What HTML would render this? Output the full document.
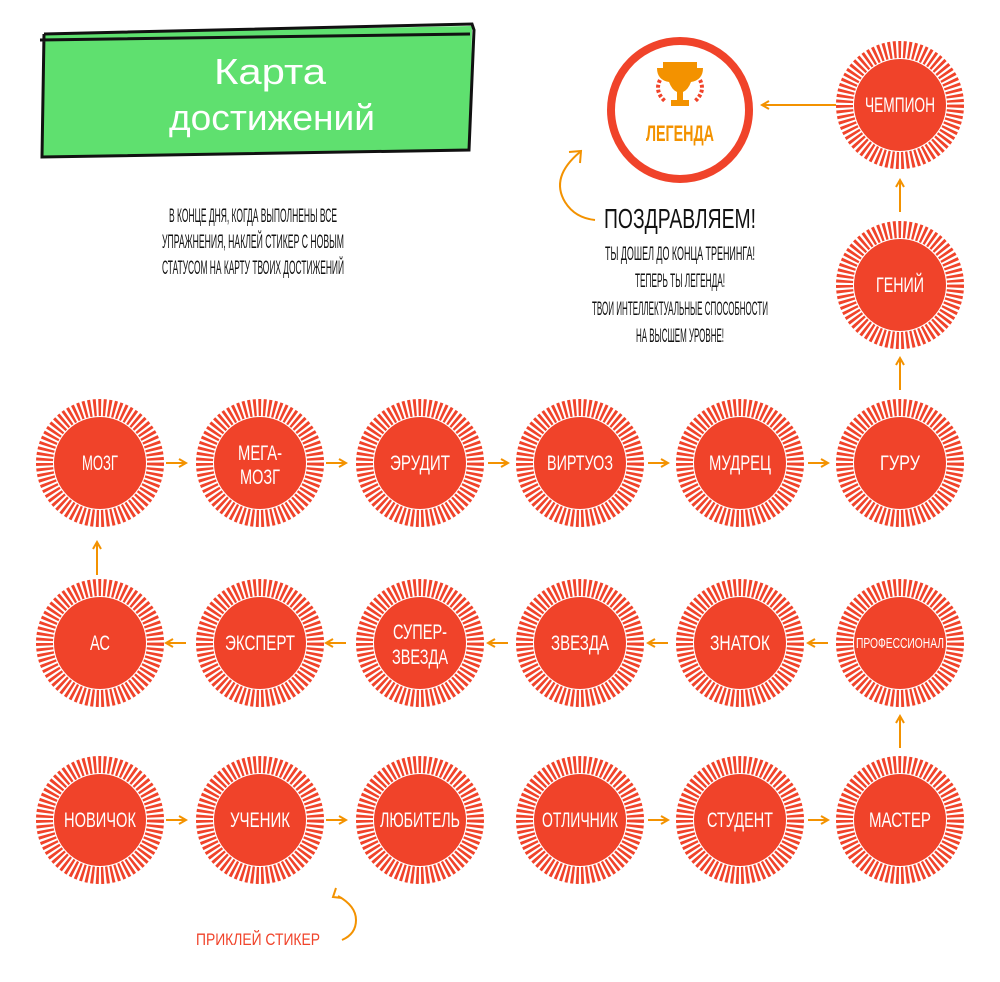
<!DOCTYPE html>
<html><head><meta charset="utf-8"><style>
html,body{margin:0;padding:0;background:#fff;}
svg{display:block}
.l{font-family:"Liberation Sans Narrow","Liberation Sans",sans-serif;fill:#fff;font-size:21px;text-anchor:middle}
.b{font-family:"Liberation Sans Narrow","Liberation Sans",sans-serif;fill:#111;font-size:19px;text-anchor:middle}
</style></head><body>
<svg width="1000" height="982" viewBox="0 0 1000 982" xmlns="http://www.w3.org/2000/svg">
<defs>
<g id="c">
<circle r="46" fill="#f0432a"/>
<circle r="55.5" fill="none" stroke="#f0432a" stroke-width="17" stroke-dasharray="2.7 2.2"/>
</g>
<marker id="ah" markerWidth="10" markerHeight="10" refX="8" refY="5" orient="auto" markerUnits="userSpaceOnUse">
<path d="M1,1 L8,5 L1,9" fill="none" stroke="#f39200" stroke-width="2"/>
</marker>
</defs>
<!-- header -->
<polygon points="44,34 472,26 470,150 42,157" fill="#5fe06f"/>
<path d="M44,34 L472,24 L474,30 L469,150 L42,157 L44,34 M40,40 L470,34" fill="none" stroke="#111" stroke-width="3"/>
<text x="270" y="84" font-family="Liberation Sans" font-size="36" fill="#fff" text-anchor="middle" textLength="112" lengthAdjust="spacingAndGlyphs">Карта</text>
<text x="272" y="130" font-family="Liberation Sans" font-size="36" fill="#fff" text-anchor="middle" textLength="206" lengthAdjust="spacingAndGlyphs">достижений</text>
<text class="b" x="253" y="222" textLength="168" lengthAdjust="spacingAndGlyphs">В КОНЦЕ ДНЯ, КОГДА ВЫПОЛНЕНЫ ВСЕ</text>
<text class="b" x="253" y="248" textLength="182" lengthAdjust="spacingAndGlyphs">УПРАЖНЕНИЯ, НАКЛЕЙ СТИКЕР С НОВЫМ</text>
<text class="b" x="253" y="274" textLength="182" lengthAdjust="spacingAndGlyphs">СТАТУСОМ НА КАРТУ ТВОИХ ДОСТИЖЕНИЙ</text>
<!-- legend -->
<circle cx="680" cy="110" r="69" fill="#fff" stroke="#f0432a" stroke-width="8"/>
<path d="M663,62 h34 v6 h6 q0,12 -12,14 q-3,8 -8,10 v8 h6 v6 h-18 v-6 h6 v-8 q-5,-2 -8,-10 q-12,-2 -12,-14 h6z" fill="#f39200"/>
<path d="M660,80 q-6,12 6,22 M700,80 q6,12 -6,22" fill="none" stroke="#f0432a" stroke-width="4" stroke-dasharray="3 2"/>
<text x="680" y="141" font-family="Liberation Sans Narrow,Liberation Sans,sans-serif" font-size="22" font-weight="bold" fill="#f39200" text-anchor="middle" textLength="68" lengthAdjust="spacingAndGlyphs">ЛЕГЕНДА</text>
<path d="M580,152 q-30,25 -15,50 q10,16 30,18" fill="none" stroke="#f39200" stroke-width="2"/>
<path d="M569,152 L581,151 L580,163" fill="none" stroke="#f39200" stroke-width="2"/>
<text x="680" y="228" font-family="Liberation Sans Narrow,Liberation Sans,sans-serif" font-size="28" fill="#111" text-anchor="middle" textLength="152" lengthAdjust="spacingAndGlyphs">ПОЗДРАВЛЯЕМ!</text>
<text class="b" x="680" y="260" textLength="150" lengthAdjust="spacingAndGlyphs">ТЫ ДОШЕЛ ДО КОНЦА ТРЕНИНГА!</text>
<text class="b" x="680" y="287" textLength="90" lengthAdjust="spacingAndGlyphs">ТЕПЕРЬ ТЫ ЛЕГЕНДА!</text>
<text class="b" x="680" y="315" textLength="176" lengthAdjust="spacingAndGlyphs">ТВОИ ИНТЕЛЛЕКТУАЛЬНЫЕ СПОСОБНОСТИ</text>
<text class="b" x="680" y="342" textLength="88" lengthAdjust="spacingAndGlyphs">НА ВЫСШЕМ УРОВНЕ!</text>
<!-- circles -->
<g>
<use href="#c" x="900" y="105"/><use href="#c" x="900" y="285"/>
<use href="#c" x="100" y="463"/><use href="#c" x="260" y="463"/><use href="#c" x="420" y="463"/><use href="#c" x="580" y="463"/><use href="#c" x="740" y="463"/><use href="#c" x="900" y="463"/>
<use href="#c" x="100" y="643"/><use href="#c" x="260" y="643"/><use href="#c" x="420" y="643"/><use href="#c" x="580" y="643"/><use href="#c" x="740" y="643"/><use href="#c" x="900" y="643"/>
<use href="#c" x="100" y="820"/><use href="#c" x="260" y="820"/><use href="#c" x="420" y="820"/><use href="#c" x="580" y="820"/><use href="#c" x="740" y="820"/><use href="#c" x="900" y="820"/>
</g>
<g class="l">
<text x="900" y="112" textLength="70" lengthAdjust="spacingAndGlyphs">ЧЕМПИОН</text>
<text x="900" y="292" textLength="48" lengthAdjust="spacingAndGlyphs">ГЕНИЙ</text>
<text x="100" y="470" textLength="36" lengthAdjust="spacingAndGlyphs">МОЗГ</text>
<text x="260" y="460" textLength="44" lengthAdjust="spacingAndGlyphs">МЕГА-</text>
<text x="260" y="484" textLength="40" lengthAdjust="spacingAndGlyphs">МОЗГ</text>
<text x="420" y="470" textLength="60" lengthAdjust="spacingAndGlyphs">ЭРУДИТ</text>
<text x="580" y="470" textLength="66" lengthAdjust="spacingAndGlyphs">ВИРТУОЗ</text>
<text x="740" y="470" textLength="62" lengthAdjust="spacingAndGlyphs">МУДРЕЦ</text>
<text x="900" y="470" textLength="40" lengthAdjust="spacingAndGlyphs">ГУРУ</text>
<text x="100" y="650" textLength="20" lengthAdjust="spacingAndGlyphs">АС</text>
<text x="260" y="650" textLength="70" lengthAdjust="spacingAndGlyphs">ЭКСПЕРТ</text>
<text x="420" y="639" textLength="54" lengthAdjust="spacingAndGlyphs">СУПЕР-</text>
<text x="420" y="664" textLength="56" lengthAdjust="spacingAndGlyphs">ЗВЕЗДА</text>
<text x="580" y="650" textLength="58" lengthAdjust="spacingAndGlyphs">ЗВЕЗДА</text>
<text x="740" y="650" textLength="60" lengthAdjust="spacingAndGlyphs">ЗНАТОК</text>
<text x="900" y="648" font-size="15" textLength="88" lengthAdjust="spacingAndGlyphs">ПРОФЕССИОНАЛ</text>
<text x="100" y="827" textLength="72" lengthAdjust="spacingAndGlyphs">НОВИЧОК</text>
<text x="260" y="827" textLength="60" lengthAdjust="spacingAndGlyphs">УЧЕНИК</text>
<text x="420" y="827" textLength="80" lengthAdjust="spacingAndGlyphs">ЛЮБИТЕЛЬ</text>
<text x="580" y="827" textLength="76" lengthAdjust="spacingAndGlyphs">ОТЛИЧНИК</text>
<text x="740" y="827" textLength="66" lengthAdjust="spacingAndGlyphs">СТУДЕНТ</text>
<text x="900" y="827" textLength="62" lengthAdjust="spacingAndGlyphs">МАСТЕР</text>
</g>
<!-- arrows -->
<g stroke="#f39200" stroke-width="2" marker-end="url(#ah)">
<line x1="836" y1="105" x2="762" y2="105"/>
<line x1="900" y1="212" x2="900" y2="180"/>
<line x1="900" y1="390" x2="900" y2="358"/>
<line x1="900" y1="748" x2="900" y2="716"/>
<line x1="97" y1="575" x2="97" y2="542"/>
<line x1="166" y1="463" x2="186" y2="463"/>
<line x1="326" y1="463" x2="346" y2="463"/>
<line x1="488" y1="463" x2="508" y2="463"/>
<line x1="648" y1="463" x2="668" y2="463"/>
<line x1="808" y1="463" x2="828" y2="463"/>
<line x1="186" y1="643" x2="166" y2="643"/>
<line x1="346" y1="643" x2="326" y2="643"/>
<line x1="508" y1="643" x2="488" y2="643"/>
<line x1="668" y1="643" x2="648" y2="643"/>
<line x1="828" y1="643" x2="808" y2="643"/>
<line x1="166" y1="820" x2="186" y2="820"/>
<line x1="326" y1="820" x2="346" y2="820"/>
<line x1="648" y1="820" x2="668" y2="820"/>
<line x1="808" y1="820" x2="828" y2="820"/>
</g>
<path d="M338,896 q18,10 18,24 q0,14 -14,20" fill="none" stroke="#f39200" stroke-width="2"/>
<path d="M336,888 L333,897 L342,898" fill="none" stroke="#f39200" stroke-width="2"/>
<text x="258" y="945" font-family="Liberation Sans Narrow,Liberation Sans,sans-serif" font-size="17" fill="#f0432a" text-anchor="middle" textLength="124" lengthAdjust="spacingAndGlyphs">ПРИКЛЕЙ СТИКЕР</text>
</svg>
</body></html>
